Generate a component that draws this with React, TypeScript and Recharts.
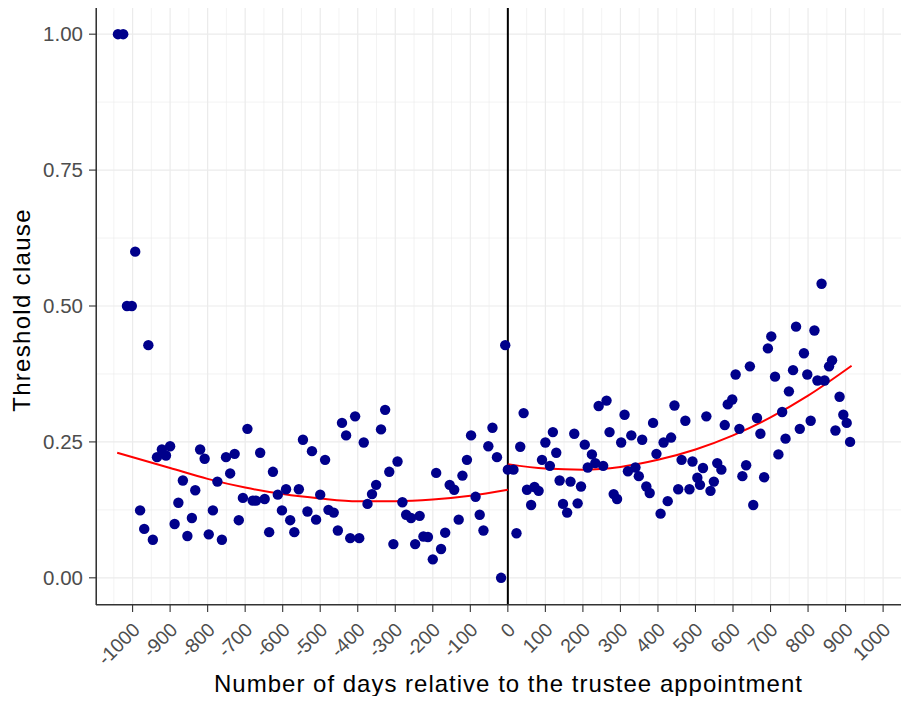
import React from 'react';
import {
  ComposedChart,
  Scatter,
  Line,
  XAxis,
  YAxis,
  ReferenceLine,
} from 'recharts';

// observed points: days relative to appointment, share with threshold clause
const daysBefore = [
  -1039, -1025, -1015, -1002, -993, -980, -969, -958, -946, -935, -922, -911, -900,
  -888, -878, -866, -854, -842, -833, -820, -808, -797, -786, -774, -762, -751, -740,
  -728, -717, -706, -694, -680, -671, -660, -648, -636, -626, -613, -602, -591, -580,
  -569, -557, -546, -534, -522, -511, -500, -487, -478, -464, -453, -442, -431, -420,
  -407, -396, -384, -374, -362, -351, -338, -327, -316, -305, -294, -281, -271, -258,
  -247, -235, -225, -213, -200, -191, -178, -167, -155, -143, -131, -121, -109, -98,
  -86, -75, -65, -52, -41, -29, -18, -7,
];
const shareBefore = [
  1.0, 1.0, 0.5, 0.5, 0.6, 0.124, 0.09, 0.428, 0.07, 0.222, 0.236, 0.225, 0.242,
  0.099, 0.138, 0.179, 0.077, 0.11, 0.161, 0.236, 0.219, 0.08, 0.124, 0.177, 0.07, 0.222, 0.192,
  0.228, 0.106, 0.147, 0.274, 0.142, 0.142, 0.23, 0.145, 0.084, 0.195, 0.153, 0.124, 0.163, 0.106,
  0.084, 0.163, 0.254, 0.122, 0.233, 0.107, 0.153, 0.217, 0.125, 0.12, 0.087, 0.285, 0.262, 0.073,
  0.297, 0.073, 0.249, 0.136, 0.154, 0.171, 0.273, 0.309, 0.195, 0.062, 0.214, 0.139, 0.116, 0.11,
  0.062, 0.114, 0.076, 0.075, 0.034, 0.193, 0.053, 0.083, 0.171, 0.162, 0.107, 0.188, 0.217, 0.262,
  0.149, 0.116, 0.087, 0.242, 0.276, 0.222, 0.0, 0.428,
];
const daysAfter = [
  0, 15, 23, 33, 42, 51, 62, 71, 82, 91, 100, 112, 120, 129, 138, 147, 158, 167, 177, 186,
  195, 205, 213, 224, 233, 242, 254, 263, 271, 282, 291, 302, 311, 320, 329, 340, 349, 358,
  369, 378, 387, 396, 407, 415, 426, 435, 444, 454, 463, 473, 484, 492, 505, 512, 520, 529,
  540, 549, 558, 569, 578, 586, 598, 607, 617, 625, 635, 645, 654, 664, 673, 683, 693, 702,
  712, 721, 731, 740, 749, 760, 768, 778, 789, 798, 807, 817, 825, 836, 844, 856, 864, 873,
  884, 894, 903, 912,
];
const shareAfter = [
  0.199, 0.199, 0.082, 0.241, 0.303, 0.162, 0.134, 0.167, 0.16, 0.217, 0.249, 0.206, 0.268, 0.23, 0.179, 0.136, 0.12, 0.177, 0.265, 0.137,
  0.168, 0.245, 0.203, 0.227, 0.211, 0.316, 0.206, 0.326, 0.268, 0.154, 0.145, 0.249, 0.3, 0.196, 0.262, 0.203, 0.187, 0.254,
  0.168, 0.156, 0.285, 0.228, 0.118, 0.249, 0.141, 0.258, 0.317, 0.163, 0.217, 0.289, 0.163, 0.214, 0.184, 0.171, 0.202, 0.297,
  0.16, 0.177, 0.211, 0.199, 0.281, 0.319, 0.328, 0.374, 0.274, 0.187, 0.207, 0.389, 0.134, 0.294, 0.265, 0.185, 0.422, 0.444,
  0.37, 0.227, 0.305, 0.256, 0.343, 0.382, 0.462, 0.274, 0.413, 0.374, 0.289, 0.455, 0.363, 0.541, 0.363, 0.389, 0.4, 0.271,
  0.333, 0.3, 0.285, 0.25,
];

// red fitted curves
const fitBeforeDays = [-1041, -900, -800, -700, -600, -500, -400, -300, -200, -100, 0];
const fitBeforeShare = [0.23, 0.202, 0.182, 0.166, 0.154, 0.146, 0.141, 0.141, 0.144, 0.151, 0.162];
const fitAfterDays = [0, 100, 200, 300, 400, 500, 600, 700, 800, 916];
const fitAfterShare = [0.209, 0.201, 0.199, 0.204, 0.217, 0.236, 0.262, 0.295, 0.335, 0.39];

const xTicks = [-1000, -900, -800, -700, -600, -500, -400, -300, -200, -100, 0, 100, 200, 300, 400, 500, 600, 700, 800, 900, 1000];
const xMinor = [-1050, -950, -850, -750, -650, -550, -450, -350, -250, -150, -50, 50, 150, 250, 350, 450, 550, 650, 750, 850, 950, 1050];
const yTicks = [0, 0.25, 0.5, 0.75, 1];
const yMinor = [0.125, 0.375, 0.625, 0.875];

const points = [
  ...daysBefore.map((d, i) => ({ x: d, y: shareBefore[i] })),
  ...daysAfter.map((d, i) => ({ x: d, y: shareAfter[i] })),
];
const fitBefore = fitBeforeDays.map((d, i) => ({ x: d, y: fitBeforeShare[i] }));
const fitAfter = fitAfterDays.map((d, i) => ({ x: d, y: fitAfterShare[i] }));

const FONT = '"Liberation Sans", Arial, sans-serif';
const GRID = '#EBEBEB';

const Dot = (props: any) => (
  <circle cx={props.cx} cy={props.cy} r={5.2} fill="#00008B" />
);

const XTick = ({ x, y, payload }: any) => (
  <g transform={`translate(${x + 8.5},${y + 19})`}>
    <text textAnchor="end" transform="rotate(-45)" fontSize={19.5} fill="#4D4D4D" fontFamily={FONT}>
      {payload.value}
    </text>
  </g>
);

const XTitle = ({ viewBox }: any) => (
  <text
    x={viewBox.x + viewBox.width / 2 + 6}
    y={viewBox.y + viewBox.height - 12}
    textAnchor="middle"
    fontSize={24}
    letterSpacing={1}
    fill="#000"
    fontFamily={FONT}
  >
    Number of days relative to the trustee appointment
  </text>
);

const YTitle = ({ viewBox }: any) => (
  <text
    transform={`translate(21,${viewBox.y + viewBox.height / 2 + 4}) rotate(-90)`}
    textAnchor="middle"
    dominantBaseline="central"
    fontSize={24}
    letterSpacing={1.3}
    fill="#000"
    fontFamily={FONT}
  >
    Threshold clause
  </text>
);

export default function App() {
  return (
    <div style={{ position: 'relative', width: 909, height: 704, margin: -8, overflow: 'hidden', background: '#fff', fontFamily: FONT }}>
      <ComposedChart width={909} height={704} margin={{ top: 7, right: 0, bottom: 0, left: 0 }}>
        <XAxis
          type="number"
          dataKey="x"
          domain={[-1097.5, 1069]}
          allowDataOverflow
          ticks={xTicks}
          interval={0}
          height={99}
          tickSize={7}
          tickMargin={0}
          tick={<XTick />}
          axisLine={{ stroke: '#333333', strokeWidth: 1.1 }}
          tickLine={{ stroke: '#333333', strokeWidth: 1.1 }}
          label={{ content: <XTitle /> }}
        />
        <YAxis
          type="number"
          dataKey="y"
          domain={[-0.05, 1.05]}
          allowDataOverflow
          ticks={yTicks}
          interval={0}
          width={96}
          tickSize={7}
          tickMargin={6}
          tickFormatter={(v: number) => v.toFixed(2)}
          tick={{ fill: '#4D4D4D', fontSize: 20.5, fontFamily: FONT }}
          axisLine={{ stroke: '#333333', strokeWidth: 1.1 }}
          tickLine={{ stroke: '#333333', strokeWidth: 1.1 }}
          label={{ content: <YTitle /> }}
        />
        {xMinor.map((v) => (
          <ReferenceLine key={`xm${v}`} x={v} stroke={GRID} strokeWidth={0.6} />
        ))}
        {yMinor.map((v) => (
          <ReferenceLine key={`ym${v}`} y={v} stroke={GRID} strokeWidth={0.6} />
        ))}
        {xTicks.map((v) => (
          <ReferenceLine key={`xM${v}`} x={v} stroke={GRID} strokeWidth={1.2} />
        ))}
        {yTicks.map((v) => (
          <ReferenceLine key={`yM${v}`} y={v} stroke={GRID} strokeWidth={1.2} />
        ))}
        <ReferenceLine x={0} stroke="#000" strokeWidth={2} />
        <Scatter data={points} dataKey="y" shape={<Dot />} isAnimationActive={false} />
        <Line data={fitBefore} dataKey="y" type="monotone" stroke="#FF0000" strokeWidth={2} dot={false} activeDot={false} isAnimationActive={false} />
        <Line data={fitAfter} dataKey="y" type="monotone" stroke="#FF0000" strokeWidth={2} dot={false} activeDot={false} isAnimationActive={false} />
      </ComposedChart>
      <div
        style={{
          position: 'absolute',
          left: 96,
          top: 7,
          width: 830,
          height: 598,
          border: '1.1px solid #333333',
          boxSizing: 'border-box',
          pointerEvents: 'none',
        }}
      />
    </div>
  );
}
